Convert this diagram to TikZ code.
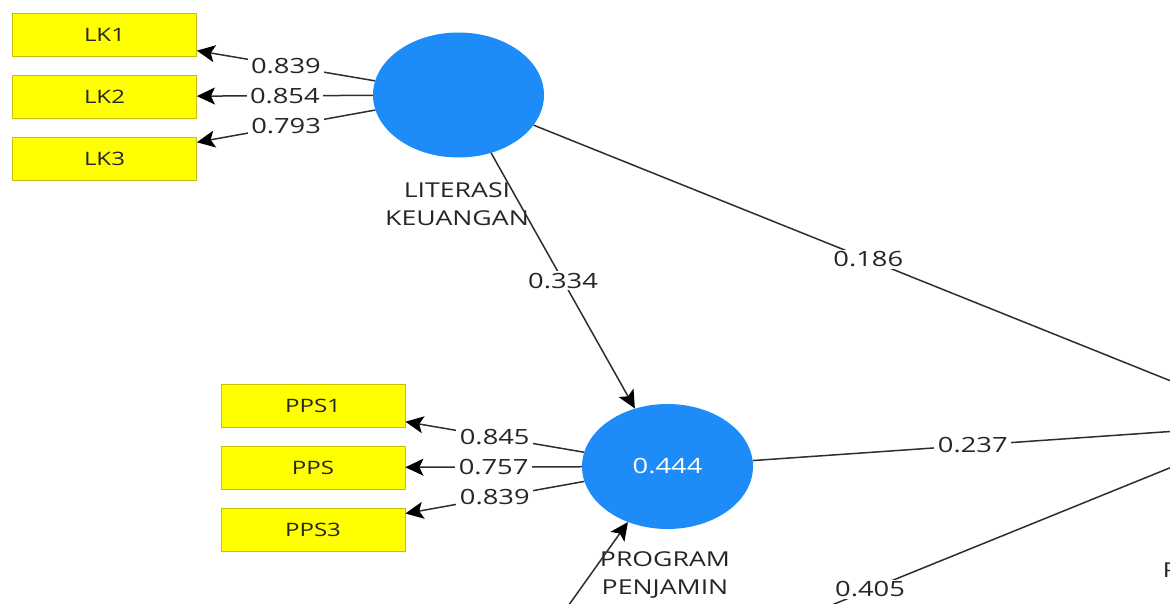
\documentclass[tikz,border=0pt]{standalone}
\usepackage{fontspec}
\newfontfamily\plsfont[FakeStretch=1.3]{Open Sans}
\usetikzlibrary{shapes.geometric,arrows.meta}
\definecolor{plsblue}{HTML}{1E8CF8}
\definecolor{plsyellow}{HTML}{FFFF00}
\definecolor{plsborder}{HTML}{C8C000}
\definecolor{plsline}{HTML}{2E2E2E}
\definecolor{plstext}{HTML}{262626}
\begin{document}
\begin{tikzpicture}[x=1pt,y=-1pt,
  latent/.style={ellipse, fill=plsblue, minimum width=171pt, minimum height=125pt, inner sep=0pt, text=white, font=\plsfont\fontsize{21}{25}\selectfont},
  indicator/.style={rectangle, fill=plsyellow, draw=plsborder, line width=0.8pt, minimum width=184pt, minimum height=43pt, inner sep=0pt, font=\plsfont\fontsize{18.5}{22}\selectfont, text=plstext},
  latlabel/.style={align=center, font=\plsfont\fontsize{20.5}{28}\selectfont, text=plstext},
  coef/.style={fill=white, inner xsep=3.5pt, inner ysep=1.5pt, font=\plsfont\fontsize{21}{25}\selectfont, text=plstext},
  link/.style={draw=plsline, line width=1.5pt, -{Stealth[length=18pt,width=17pt,inset=4pt,color=black]}},
]
\useasboundingbox (0,0) rectangle (1170,604);
\fill[white] (0,0) rectangle (1170,604);
\clip (0,0) rectangle (1170,604);

% latent variables
\node[latent] (lk) at (458.5,95) {};
\node[latent] (pps) at (667.5,466.5) {0.444};
\node[latent] (kp) at (1278,424) {};
\node[latent] (kk) at (462,755) {};

% latent labels
\node[latlabel] (lklab) at (457,204) {LITERASI\\KEUANGAN};
\node[latlabel] (ppslab) at (665,575) {PROGRAM\\PENJAMIN};
\node[latlabel, anchor=west] (kplab) at (1159,570) {P};

% indicators
\node[indicator] (lk1) at (104.5,35) {LK1};
\node[indicator] (lk2) at (104.5,96.5) {LK2};
\node[indicator] (lk3) at (104.5,159) {LK3};
\node[indicator] (pps1) at (313,406) {PPS1};
\node[indicator] (pps2) at (313,467.5) {PPS};
\node[indicator] (pps3) at (313,530) {PPS3};

% outer loadings
\draw[link] (lk) -- node[coef] {0.839} (lk1);
\draw[link] (lk) -- node[coef] {0.854} (lk2);
\draw[link] (lk) -- node[coef] {0.793} (lk3);
\draw[link] (pps) -- node[coef] {0.845} (pps1);
\draw[link] (pps) -- node[coef] {0.757} (pps2);
\draw[link] (pps) -- node[coef] {0.839} (pps3);

% structural paths
\draw[link] (lk) -- node[coef] {0.334} (pps);
\draw[link] (lk) -- node[coef] {0.186} (kp);
\draw[link] (pps) -- node[coef] {0.237} (kp);
\draw[link] (kk) -- node[coef] {0.405} (kp);
\draw[link] (kk) -- (pps);
\end{tikzpicture}
\end{document}
